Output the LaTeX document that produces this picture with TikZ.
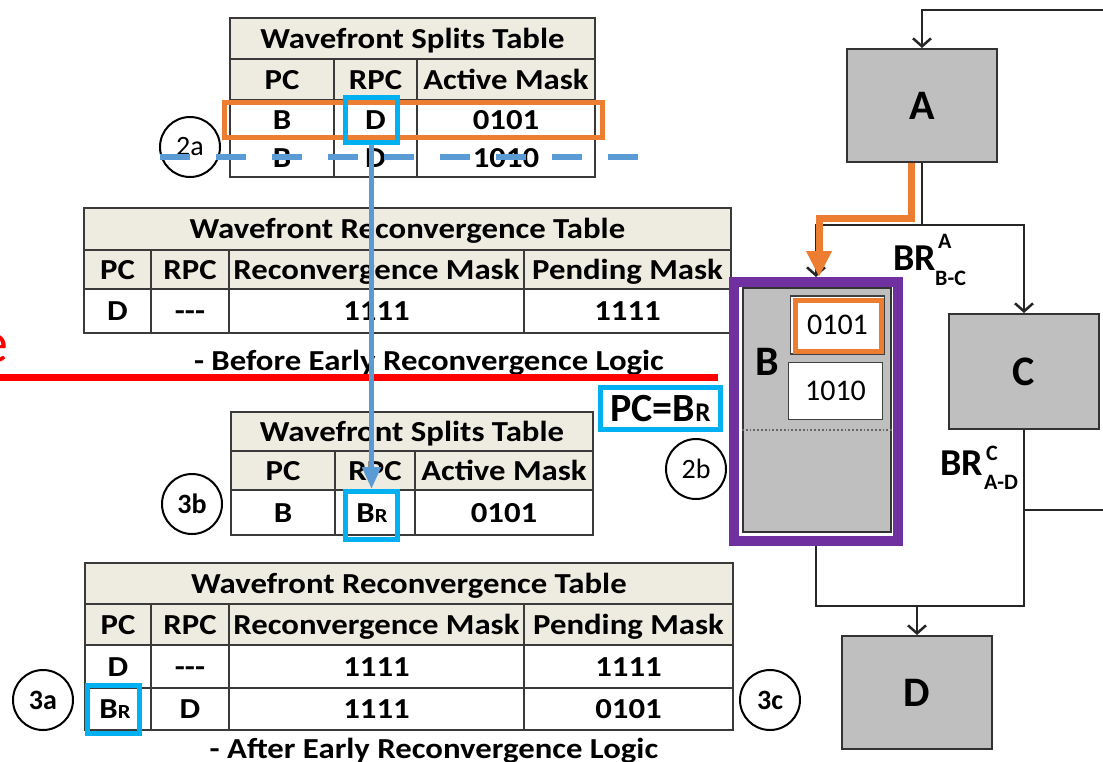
\documentclass[tikz,border=0pt]{standalone}
\usepackage{fontspec}
\setmainfont{Carlito}
\newfontfamily\tabfont{Carlito}[FakeStretch=1.13]
\usetikzlibrary{arrows.meta}
\definecolor{beige}{HTML}{EEECE1}
\definecolor{gridc}{HTML}{3A3A3A}
\definecolor{steel}{HTML}{5B9BD5}
\definecolor{cyanc}{HTML}{00B0F0}
\definecolor{orangec}{HTML}{ED7D31}
\definecolor{purplec}{HTML}{7030A0}
\definecolor{blockg}{HTML}{BFBFBF}
\definecolor{redc}{HTML}{FF0000}
\newcommand\tf{\tabfont\fontsize{29}{32}\selectfont\bfseries}
\newcommand\mf{\fontsize{30}{32}\selectfont}
\newcommand\smR{{\fontsize{20}{20}\selectfont R}}
\newcommand\bigf{\fontsize{42}{44}\selectfont\bfseries}
\newcommand\supf{\fontsize{22}{22}\selectfont\bfseries}
\newcommand\circf{\fontsize{28}{28}\selectfont}
\begin{document}
\begin{tikzpicture}[x=1pt,y=-1pt,
  grid/.style={draw=gridc,line width=2pt},
  tx/.style={anchor=base,inner sep=0pt,font=\tf},
  hl/.style={draw=cyanc,line width=5pt,inner sep=0pt},
  orbox/.style={draw=orangec,line width=5pt,inner sep=0pt},
  circ/.style={draw,circle,line width=2pt,minimum size=60pt,inner sep=0pt,fill=white,font=\circf},
  blk/.style={draw=black!80,fill=blockg,line width=2pt,inner sep=0pt,font=\bigf},
  ln/.style={draw=black!85,line width=2.5pt},
  arr/.style={ln,-{Straight Barb[length=8pt,width=18pt,line width=2.5pt]}},
  barr/.style={draw=steel,line width=5pt,-{Triangle[width=18pt,length=22pt]}},
  orarr/.style={draw=orangec,line width=7pt,-{Triangle[width=24pt,length=26pt]}}]
\useasboundingbox (0,0) rectangle (1103,761);
\clip (0,0) rectangle (1103,761);

% ---------- Table 1: Wavefront Splits Table (top)
\fill[beige] (230,18) rectangle (595,100);
\draw[grid] (230,18) rectangle (595,177);
\draw[grid] (230,59) -- (595,59) (230,100) -- (595,100) (230,139) -- (595,139);
\draw[grid] (334,59) -- (334,177) (417,59) -- (417,177);
\node[tx] (t1title) at (412.5,48) {Wavefront Splits Table};
\node[tx] (t1h1) at (282,89) {PC};
\node[tx] (t1h2) at (375.5,89) {RPC};
\node[tx] (t1h3) at (506,89) {Active Mask};
\node[tx] (t1a1) at (282,129) {B};
\node[tx] (t1a2) at (375.5,129) {D};
\node[tx] (t1a3) at (506,129) {0101};
\node[tx] (t1b1) at (282,167.5) {B};
\node[tx] (t1b2) at (375.5,167.5) {D};
\node[tx] (t1b3) at (506,167.5) {1010};

% ---------- Table 2: Wavefront Reconvergence Table (before)
\fill[beige] (84,208) rectangle (731,289);
\draw[grid] (84,208) rectangle (731,333);
\draw[grid] (84,250) -- (731,250) (84,289) -- (731,289);
\draw[grid] (151,250) -- (151,333) (229,250) -- (229,333) (524,250) -- (524,333);
\node[tx] (t2title) at (407.5,238.5) {Wavefront Reconvergence Table};
\node[tx] (t2h1) at (117.5,279) {PC};
\node[tx] (t2h2) at (190,279) {RPC};
\node[tx] (t2h3) at (376.5,279) {Reconvergence Mask};
\node[tx] (t2h4) at (627.5,279) {Pending Mask};
\node[tx] (t2a1) at (117.5,320.5) {D};
\node[tx] (t2a2) at (190,320.5) {{-}{-}{-}};
\node[tx] (t2a3) at (376.5,320.5) {1111};
\node[tx] (t2a4) at (627.5,320.5) {1111};
\node[tx] (cap1) at (429,370) {- Before Early Reconvergence Logic};

% red separator
\node[anchor=base east,inner sep=0pt,text=redc,font=\fontsize{58}{58}\selectfont] (rede) at (9,362) {e};
\draw[redc,line width=7pt] (0,377) -- (718,377);

% ---------- Table 3: Wavefront Splits Table (after)
\fill[beige] (231,412) rectangle (593,490);
\draw[grid] (231,412) rectangle (593,535);
\draw[grid] (231,451) -- (593,451) (231,490) -- (593,490);
\draw[grid] (335,451) -- (335,535) (415,451) -- (415,535);
\node[tx] (t3title) at (412,441) {Wavefront Splits Table};
\node[tx] (t3h1) at (283,480) {PC};
\node[tx] (t3h2) at (375,480) {RPC};
\node[tx] (t3h3) at (504,480) {Active Mask};
\node[tx] (t3a1) at (283,522) {B};
\node[tx] (t3a2) at (372,522) {B\smR};
\node[tx] (t3a3) at (504,522) {0101};

% ---------- Table 4: Wavefront Reconvergence Table (after)
\fill[beige] (85,563) rectangle (733,645);
\draw[grid] (85,563) rectangle (733,730);
\draw[grid] (85,604) -- (733,604) (85,645) -- (733,645) (85,688) -- (733,688);
\draw[grid] (151,604) -- (151,730) (229,604) -- (229,730) (524,604) -- (524,730);
\node[tx] (t4title) at (409,593) {Wavefront Reconvergence Table};
\node[tx] (t4h1) at (118,634) {PC};
\node[tx] (t4h2) at (190,634) {RPC};
\node[tx] (t4h3) at (376.5,634) {Reconvergence Mask};
\node[tx] (t4h4) at (628.5,634) {Pending Mask};
\node[tx] (t4a1) at (118,676) {D};
\node[tx] (t4a2) at (190,676) {{-}{-}{-}};
\node[tx] (t4a3) at (376.5,676) {1111};
\node[tx] (t4a4) at (628.5,676) {1111};
\node[tx] (t4b1) at (115,718.5) {B\smR};
\node[tx] (t4b2) at (190,718.5) {D};
\node[tx] (t4b3) at (376.5,718.5) {1111};
\node[tx] (t4b4) at (628.5,718.5) {0101};
\node[tx] (cap2) at (434,758) {- After Early Reconvergence Logic};

% ---------- circles
\node[circ] (c2a) at (190,147) {2a};
\node[circ,font=\circf\bfseries] (c3b) at (192,504) {3b};
\node[circ,font=\circf\bfseries] (c3a) at (43,700) {3a};
\node[circ,font=\circf\bfseries] (c3c) at (770,700) {3c};
\node[circ] (c2b) at (696,469) {2b};

% ---------- highlights
\node[orbox,minimum width=378pt,minimum height=35pt] (orow) at (413.5,120) {};
\node[hl,minimum width=52pt,minimum height=45pt] (cyD) at (371.5,120) {};
\node[hl,minimum width=52pt,minimum height=48pt] (cyB) at (371.5,515.5) {};
\node[hl,minimum width=52pt,minimum height=48pt] (cyB2) at (113.5,709.5) {};
\node[hl,minimum width=120pt,minimum height=42pt,font=\fontsize{40}{40}\selectfont\bfseries] (pcbr) at (660.5,408.5) {PC=B{\fontsize{27}{27}\selectfont R}};

\draw[steel,line width=6pt,dash pattern=on 30pt off 26pt] (160,157) -- (640,157);
\draw[barr] (cyD.south) -- (cyB.north);

% ---------- flow graph
\node[blk,minimum width=150pt,minimum height=113pt] (A) at (922,105.5) {A};
\node[blk,minimum width=150pt,minimum height=115pt] (C) at (1024,371.5) {C};
\node[blk,minimum width=150pt,minimum height=113pt] (D) at (917,692.5) {D};
\node[blk,minimum width=148pt,minimum height=244pt] (Bx) at (817,410) {};
\node[inner sep=0pt,font=\bigf] (Blab) at (767,362) {B};
\node[draw=black!75,fill=white,line width=1.5pt,minimum width=94pt,minimum height=58pt,inner sep=0pt,font=\mf] (m1) at (837.5,325) {0101};
\node[orbox,minimum width=86pt,minimum height=51pt] (om1) at (838.5,326) {};
\node[draw=black!75,fill=white,line width=1.5pt,minimum width=94pt,minimum height=57pt,inner sep=0pt,font=\mf] (m2) at (835.5,391) {1010};
\draw[black!60,line width=1.8pt,dotted] (Bx.west |- 0,430) -- (Bx.east |- 0,430);
\node[draw=purplec,line width=10pt,minimum width=164pt,minimum height=259pt,inner sep=0pt] (P) at (816,411.5) {};

\coordinate (jA) at (922,225);
\coordinate (o2) at (819,218);
\coordinate (jD) at (917,606);
\coordinate (rt) at (1110,510);
\coordinate (tp) at (1110,10);
\draw[ln] (A.south) -- (jA);
\draw[arr] (jA) -| (C.north);
\draw[arr] (jA) -| (P.north);
\draw[orarr] ([xshift=-11pt]A.south) |- (o2) -- (o2 |- P.north);
\draw[ln] (P.south) |- (jD);
\draw[ln] (C.south) |- (jD);
\draw[arr] (jD) -- (D.north);
\draw[ln] (C.south |- rt) -- (rt);
\draw[arr] (tp) -| (A.north);

% branch labels
\node[anchor=base west,inner sep=0pt,font=\fontsize{38}{38}\selectfont\bfseries] (brA) at (893,270) {BR};
\node[anchor=base west,inner sep=0pt,font=\supf] (brAs) at (938,248) {A};
\node[anchor=base west,inner sep=0pt,font=\supf] (brAb) at (935,285) {B-C};
\node[anchor=base west,inner sep=0pt,font=\fontsize{38}{38}\selectfont\bfseries] (brC) at (940,475) {BR};
\node[anchor=base west,inner sep=0pt,font=\supf] (brCs) at (986,460) {C};
\node[anchor=base west,inner sep=0pt,font=\supf] (brCb) at (984,489) {A-D};
\end{tikzpicture}
\end{document}
